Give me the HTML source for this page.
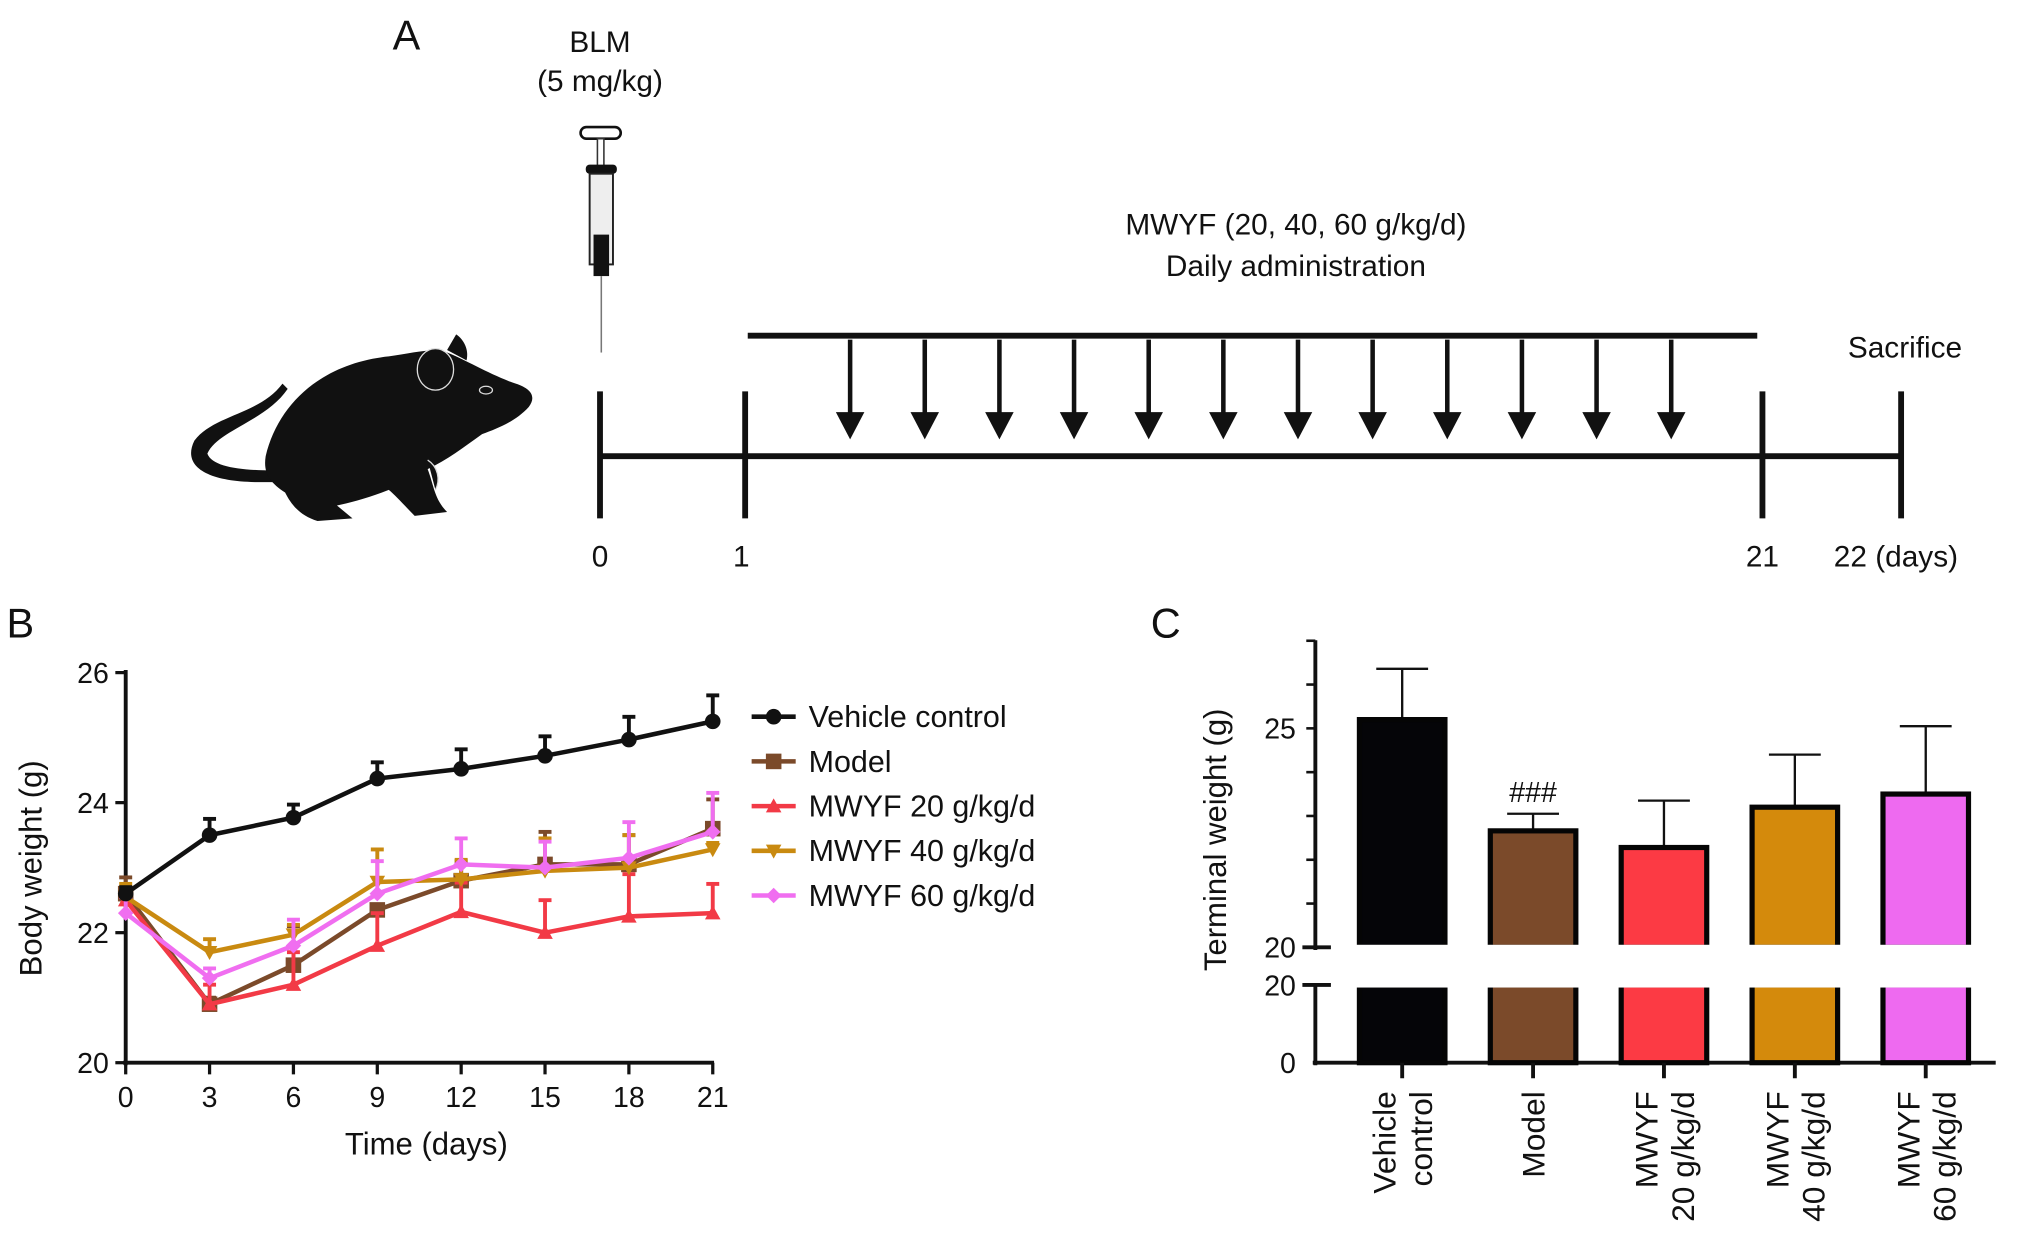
<!DOCTYPE html>
<html><head><meta charset="utf-8"><style>
html,body{margin:0;padding:0;background:#fff}
svg{display:block}
text{font-family:"Liberation Sans",Arial,sans-serif;fill:#111}
</style></head><body>
<svg id="fig" width="2032" height="1239" viewBox="0 0 1568 956" xmlns="http://www.w3.org/2000/svg">
<g id="panelA">
<text x="303" y="38" font-size="32">A</text>
<text x="463" y="40" font-size="23" text-anchor="middle">BLM</text>
<text x="463" y="70" font-size="23" text-anchor="middle">(5 mg/kg)</text>
<g>
<rect x="448" y="98" width="31" height="9" rx="4.5" fill="#fff" stroke="#111" stroke-width="2"/>
<rect x="461" y="107" width="5" height="22" fill="#fff" stroke="#333" stroke-width="1.2"/>
<rect x="452" y="127" width="24" height="7" rx="3" fill="#111"/>
<rect x="455" y="134" width="18" height="70" fill="#eee" stroke="#222" stroke-width="1.5"/>
<rect x="458" y="181" width="12" height="32" fill="#111"/>
<line x1="464" y1="213" x2="464" y2="272" stroke="#777" stroke-width="1.2"/>
</g>
<g>
<path d="M218,296 C200,320 165,320 150,340 C140,360 160,372 200,372 L235,372 L238,362 C205,364 165,364 160,350 C168,332 205,325 222,300 Z" fill="#111"/>
<path d="M205,352 C215,310 250,280 300,275 C320,272 335,268 345,272 C360,278 380,290 398,296 C410,300 414,306 408,314 C398,325 385,330 372,335 C358,345 345,355 330,362 C335,375 335,385 345,395 L320,398 C312,390 305,382 300,378 C285,384 270,388 260,390 L272,400 L245,402 C232,398 225,390 220,380 C208,372 203,365 205,352 Z" fill="#111"/>
<path d="M345,270 L352,258 C358,262 362,270 360,278 Z" fill="#111"/>
<ellipse cx="336" cy="285" rx="14" ry="16" fill="#111" stroke="#ddd" stroke-width="1"/>
<ellipse cx="375" cy="301" rx="5" ry="3" fill="none" stroke="#ddd" stroke-width="1"/>
<path d="M330,355 C338,360 340,370 336,378" fill="#111" stroke="#ddd" stroke-width="1"/>
</g>
<g>
<line x1="463" y1="352" x2="1467" y2="352" stroke="#111" stroke-width="4.5"/>
<line x1="463" y1="302" x2="463" y2="400" stroke="#111" stroke-width="4.5"/>
<line x1="575" y1="302" x2="575" y2="400" stroke="#111" stroke-width="4.5"/>
<line x1="1360" y1="302" x2="1360" y2="400" stroke="#111" stroke-width="4.5"/>
<line x1="1467" y1="302" x2="1467" y2="400" stroke="#111" stroke-width="4.5"/>
<line x1="577" y1="259" x2="1356" y2="259" stroke="#111" stroke-width="4.5"/>
<g id="arrows"></g>
<text x="463" y="437" font-size="23" text-anchor="middle">0</text>
<text x="572" y="437" font-size="23" text-anchor="middle">1</text>
<text x="1360" y="437" font-size="23" text-anchor="middle">21</text>
<text x="1463" y="437" font-size="23" text-anchor="middle">22 (days)</text>
<text x="1000" y="181" font-size="23" text-anchor="middle">MWYF (20, 40, 60 g/kg/d)</text>
<text x="1000" y="213" font-size="23" text-anchor="middle">Daily administration</text>
<text x="1470" y="276" font-size="23" text-anchor="middle">Sacrifice</text>
</g>
</g>
<g id="panelB">
<text x="5" y="492" font-size="32">B</text>
<text transform="translate(32,670) rotate(-90)" font-size="24" text-anchor="middle">Body weight (g)</text>
<text x="329" y="891" font-size="24" text-anchor="middle">Time (days)</text>
<g id="bAxes"></g><g id="bSeries"></g><g id="bLegend"></g>
</g>
<g id="panelC">
<text x="888" y="492" font-size="32">C</text>
<text transform="translate(946,648) rotate(-90)" font-size="24" text-anchor="middle">Terminal weight (g)</text>
<g id="cAxes"></g><g id="cBars"></g>
<text x="1183" y="619" font-size="22" text-anchor="middle">###</text>
</g>
</svg>
<script>
const days=[0,3,6,9,12,15,18,21];
const yTicksB=[20,22,24,26];
const seriesNames=["Vehicle control","Model","MWYF 20 g/kg/d","MWYF 40 g/kg/d","MWYF 60 g/kg/d"];
const seriesColors=["#111111","#7b4a2a","#f23a46","#c98a10","#f06ef0"];
const vehicleVals=[22.6,23.5,23.77,24.37,24.52,24.72,24.97,25.25];
const vehicleErr=[0.1,0.25,0.2,0.25,0.3,0.3,0.35,0.4];
const modelVals=[22.6,20.9,21.5,22.35,22.8,23.05,23.05,23.6];
const modelErr=[0.25,0.1,0.6,0.0,0.3,0.5,0.45,0.45];
const m20Vals=[22.5,20.9,21.2,21.8,22.32,22.0,22.25,22.3];
const m20Err=[0.1,0.3,0.5,0.5,0.45,0.5,0.65,0.45];
const m40Vals=[22.55,21.7,21.97,22.78,22.82,22.95,23.0,23.28];
const m40Err=[0.2,0.2,0.15,0.5,0.3,0.5,0.5,0.1];
const m60Vals=[22.3,21.3,21.8,22.6,23.05,23.0,23.15,23.55];
const m60Err=[0.25,0.15,0.4,0.5,0.4,0.4,0.55,0.6];
const barCats=[["Vehicle","control"],["Model"],["MWYF","20 g/kg/d"],["MWYF","40 g/kg/d"],["MWYF","60 g/kg/d"]];
const barVals=[25.2,22.66,22.28,23.2,23.5];
const barErr=[1.16,0.39,1.07,1.2,1.55];
const cUpperTicks=[20,21,22,23,24,25,26,27];
const cUpperLabels=[20,25];
const cLowerTicks=[0,20];

const NS="http://www.w3.org/2000/svg";
function mk(tag,attrs,parent){const e=document.createElementNS(NS,tag);for(const k in attrs)e.setAttribute(k,attrs[k]);parent.appendChild(e);return e;}

const ar=document.getElementById('arrows');
for(let i=0;i<12;i++){const x=656+i*57.6;
const l=mk('line',{x1:x,y1:262,x2:x,y2:320,stroke:'#111','stroke-width':3.5},ar);


mk('polygon',{points:`${x-11},${318} ${x+11},${318} ${x},${339}`,fill:'#111'},ar);}

const bx=d=>97+d*(453/21), by=v=>820-(v-20)*50.17;
const ba=document.getElementById('bAxes');
mk('line',{x1:97,y1:517,x2:97,y2:822,stroke:'#111','stroke-width':3},ba);
mk('line',{x1:95,y1:820,x2:551,y2:820,stroke:'#111','stroke-width':3},ba);
yTicksB.forEach(t=>{mk('line',{x1:89,y1:by(t),x2:97,y2:by(t),stroke:'#111','stroke-width':2.5},ba);
const tx=mk('text',{x:84,y:by(t)+8,'font-size':22,'text-anchor':'end'},ba);tx.textContent=t;

});
days.forEach(d=>{mk('line',{x1:bx(d),y1:820,x2:bx(d),y2:829,stroke:'#111','stroke-width':2.5},ba);
const tx=mk('text',{x:bx(d),y:854,'font-size':22,'text-anchor':'middle'},ba);tx.textContent=d;

});
const allVals=[vehicleVals,modelVals,m20Vals,m40Vals,m60Vals];
const allErr=[vehicleErr,modelErr,m20Err,m40Err,m60Err];
const shapes=['circle','square','tri','tridown','diamond'];
function marker(shape,x,y,s,c,parent){
 if(shape==='circle')return mk('circle',{cx:x,cy:y,r:s,fill:c},parent);
 if(shape==='square')return mk('rect',{x:x-s,y:y-s,width:2*s,height:2*s,fill:c},parent);
 if(shape==='tri')return mk('polygon',{points:`${x-s},${y+s*0.8} ${x+s},${y+s*0.8} ${x},${y-s}`,fill:c},parent);
 if(shape==='tridown')return mk('polygon',{points:`${x-s},${y-s*0.8} ${x+s},${y-s*0.8} ${x},${y+s}`,fill:c},parent);
 return mk('polygon',{points:`${x-s},${y} ${x},${y-s} ${x+s},${y} ${x},${y+s}`,fill:c},parent);}
const bs=document.getElementById('bSeries');
[1,2,3,4,0].forEach(si=>{
 const g=mk('g',{},bs);
 
 
 const c=seriesColors[si],v=allVals[si],e=allErr[si];
 days.forEach((d,i)=>{const x=bx(d);
  mk('line',{x1:x,y1:by(v[i]),x2:x,y2:by(v[i]+e[i]),stroke:c,'stroke-width':3},g);
  mk('line',{x1:x-5,y1:by(v[i]+e[i]),x2:x+5,y2:by(v[i]+e[i]),stroke:c,'stroke-width':3},g);});
 mk('polyline',{points:days.map((d,i)=>bx(d)+','+by(v[i])).join(' '),fill:'none',stroke:c,'stroke-width':3.5},g);
 days.forEach((d,i)=>{const m=marker(shapes[si],bx(d),by(v[i]),6,c,g);
  
  });
});
const bl=document.getElementById('bLegend');
seriesNames.forEach((n,i)=>{const y=553+i*34.5;
 const g=mk('g',{},bl);
 
 
 mk('line',{x1:580,y1:y,x2:614,y2:y,stroke:seriesColors[i],'stroke-width':3.5},g);
 marker(shapes[i],597,y,6,seriesColors[i],g);
 const t=mk('text',{x:624,y:y+8,'font-size':23.5},g);t.textContent=n;});

const cu=v=>731-(v-20)*33.8, cl=v=>820-v*3;
const ca=document.getElementById('cAxes');
mk('line',{x1:1015,y1:494,x2:1015,y2:733,stroke:'#111','stroke-width':3},ca);
mk('line',{x1:1015,y1:760,x2:1015,y2:822,stroke:'#111','stroke-width':3},ca);
mk('line',{x1:1013,y1:820,x2:1540,y2:820,stroke:'#111','stroke-width':3},ca);
cUpperTicks.forEach(t=>{const big=(t===20);
 mk('line',{x1:big?1005:1008,y1:cu(t),x2:big?1027:1015,y2:cu(t),stroke:'#111','stroke-width':big?3:2},ca);});
cUpperLabels.forEach(t=>{const tx=mk('text',{x:1000,y:cu(t)+8,'font-size':22,'text-anchor':'end'},ca);tx.textContent=t;
 
 });
cLowerTicks.forEach(t=>{const y=cl(t);
 if(t===20)mk('line',{x1:1005,y1:y,x2:1027,y2:y,stroke:'#111','stroke-width':3},ca);
 const tx=mk('text',{x:1000,y:y+8,'font-size':22,'text-anchor':'end'},ca);tx.textContent=t;
 
 });
const cb=document.getElementById('cBars');
const bc=['#050508','#7b4a2a','#fc3a44','#d48a0c','#ee6af0'];
barCats.forEach((cat,i)=>{const cx=1082+i*101,w=66;
 const g=mk('g',{},cb);
 
 
 const v=barVals[i],top=cu(v);
 mk('line',{x1:cx,y1:top,x2:cx,y2:cu(v+barErr[i]),stroke:'#111','stroke-width':1.8},g);
 mk('line',{x1:cx-20,y1:cu(v+barErr[i]),x2:cx+20,y2:cu(v+barErr[i]),stroke:'#111','stroke-width':1.8},g);
 mk('rect',{x:cx-w/2,y:top,width:w,height:731-top,fill:bc[i],stroke:'#050505','stroke-width':4},g);
 mk('rect',{x:cx-w/2,y:cl(20),width:w,height:820-cl(20),fill:bc[i],stroke:'#050505','stroke-width':4},g);
 mk('rect',{x:cx-w/2-3,y:729,width:w+6,height:33,fill:'#fff'},g);
 mk('line',{x1:cx,y1:820,x2:cx,y2:832,stroke:'#111','stroke-width':3},g);
 const n=cat.length;
 cat.forEach((line,j)=>{const xx=cx+(j-(n-1)/2)*28+9;
  const t=mk('text',{transform:`translate(${xx},842) rotate(-90)`,'font-size':24.5,'text-anchor':'end'},g);t.textContent=line;
  
  });
});
</script>
</body></html>
